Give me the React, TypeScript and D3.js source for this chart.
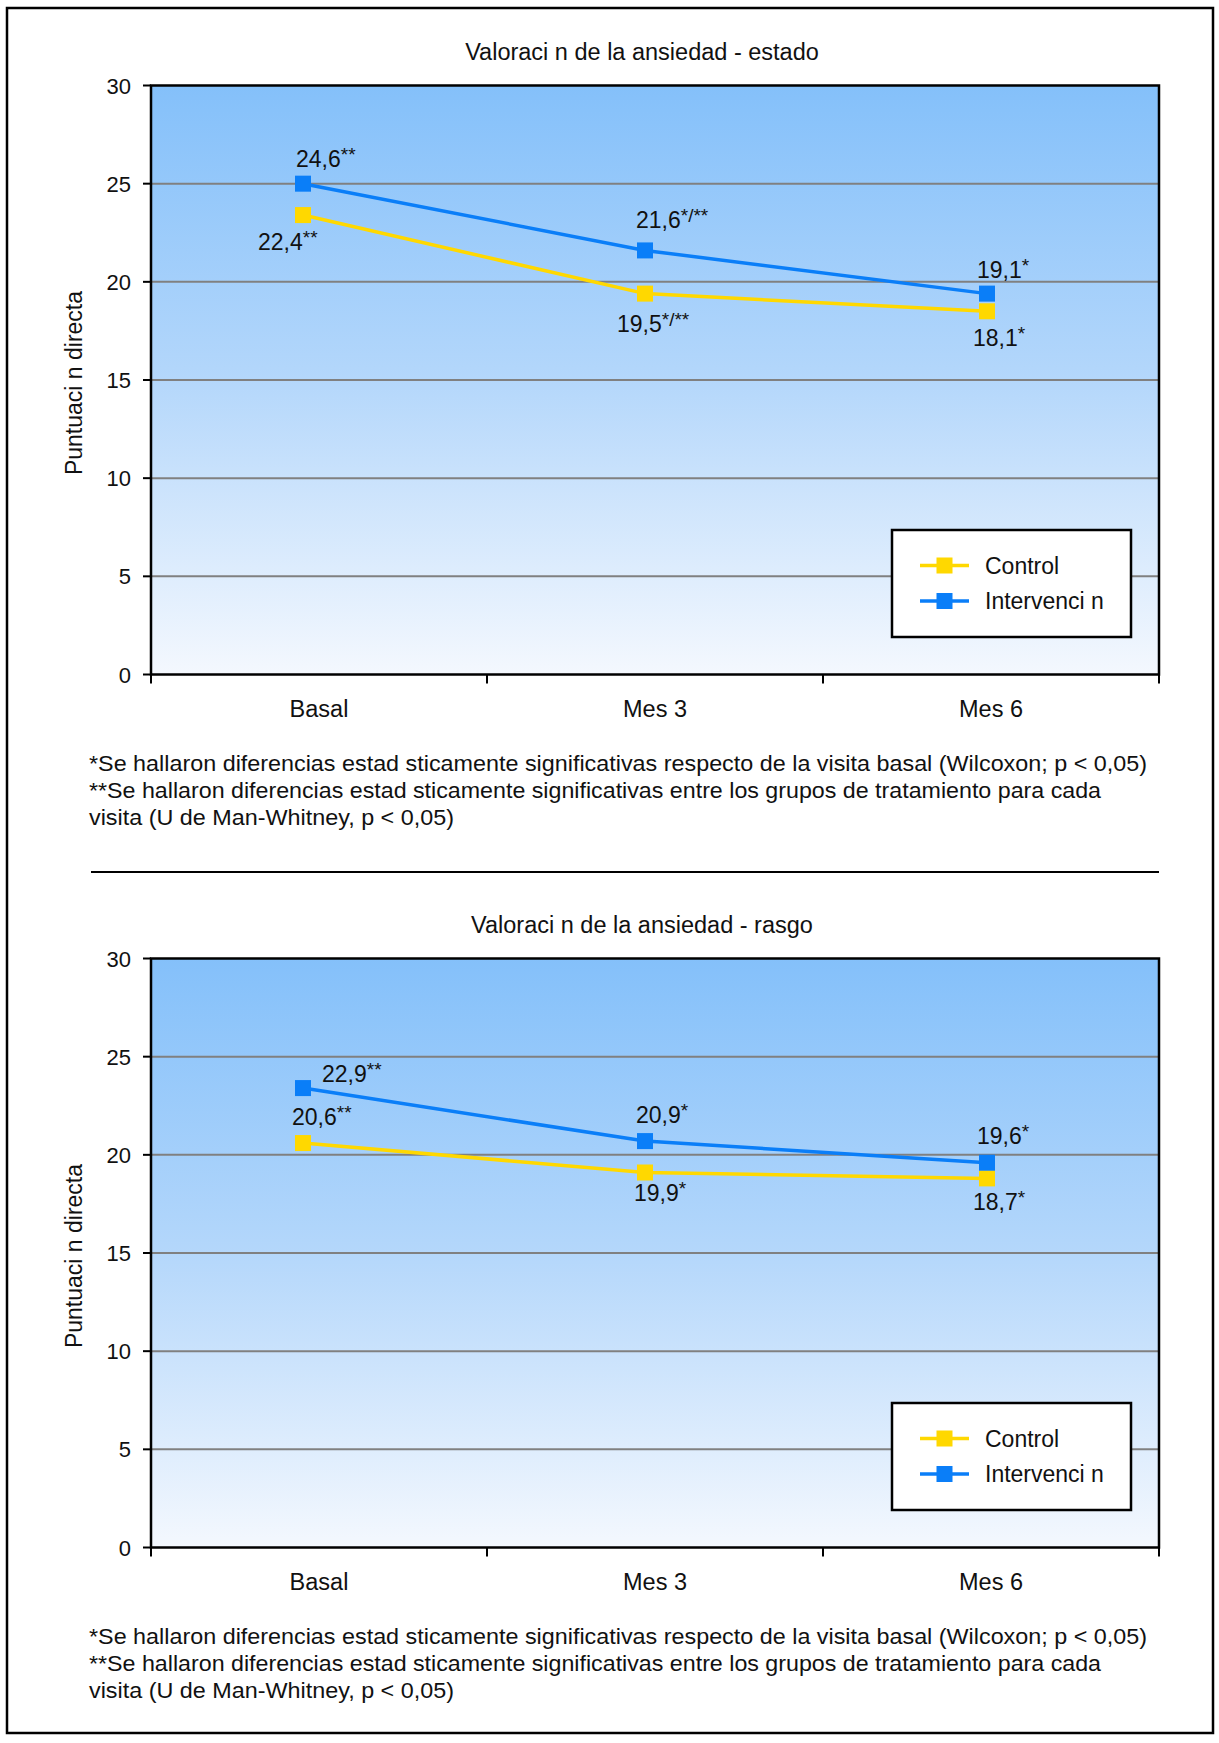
import * as d3 from 'd3';

const categories = ['Basal', 'Mes 3', 'Mes 6'];
const yTicks = [0, 5, 10, 15, 20, 25, 30];
const seriesNames = ['Control', 'Intervenci n'];

// Valoración de la ansiedad - estado
const estadoControl = [23.4, 19.4, 18.5];
const estadoIntervencion = [25.0, 21.6, 19.4];
const estadoControlLabels = [['22,4', '**'], ['19,5', '*/**'], ['18,1', '*']];
const estadoIntervencionLabels = [['24,6', '**'], ['21,6', '*/**'], ['19,1', '*']];

// Valoración de la ansiedad - rasgo
const rasgoControl = [20.6, 19.1, 18.8];
const rasgoIntervencion = [23.4, 20.7, 19.6];
const rasgoControlLabels = [['20,6', '**'], ['19,9', '*'], ['18,7', '*']];
const rasgoIntervencionLabels = [['22,9', '**'], ['20,9', '*'], ['19,6', '*']];

const footnotes = [
  '*Se hallaron diferencias estad sticamente significativas respecto de la visita basal (Wilcoxon; p < 0,05)',
  '**Se hallaron diferencias estad sticamente significativas entre los grupos de tratamiento para cada',
  'visita (U de Man-Whitney, p < 0,05)',
];

// label offsets from the marker (dx to text start, dy to baseline)
const estadoControlOffsets = [[-45, 35], [-28, 38], [-14, 35]];
const estadoIntervOffsets = [[-7, -17], [-9, -22], [-10, -16]];
const rasgoControlOffsets = [[-11, -18], [-11, 28], [-14, 32]];
const rasgoIntervOffsets = [[19, -6], [-9, -18], [-10, -19]];

const FONT = '"Liberation Sans", Arial, Helvetica, sans-serif';
const BLUE = '#0A7EF8';
const YELLOW = '#FFD800';
const W = 1219;
const H = 1743;

const plot = { left: 151, right: 1159, top: 85.5, bottom: 674.5 };

interface PanelProps {
  y0: number;
  id: string;
  title: string;
  control: number[];
  interv: number[];
  controlLabels: string[][];
  intervLabels: string[][];
  controlOffsets: number[][];
  intervOffsets: number[][];
}

function Panel({ y0, id, title, control, interv, controlLabels, intervLabels, controlOffsets, intervOffsets }: PanelProps) {
  const x = d3.scaleBand<string>().domain(categories).range([plot.left, plot.right]);
  const xp = d3.scalePoint<string>().domain(categories).range([303, 987]);
  const y = d3.scaleLinear().domain([0, 30]).range([plot.bottom, plot.top]);
  const line = d3.line<number>()
    .x((_, i) => xp(categories[i]) as number)
    .y(d => y(d));

  const series = [
    { name: 'control', values: control, color: YELLOW, labels: controlLabels, offsets: controlOffsets },
    { name: 'interv', values: interv, color: BLUE, labels: intervLabels, offsets: intervOffsets },
  ];
  const ms = 16;
  const legend = { x: 892, y: 530, w: 239, h: 107 };
  const legendRows = [565.5, 601];
  const bandEdges = categories.map(c => x(c) as number).concat([plot.right]);

  return (
    <g transform={`translate(0,${y0})`} fontFamily={FONT}>
      <defs>
        <linearGradient id={`bg-${id}`} x1="0" y1="0" x2="0" y2="1">
          <stop offset="0%" stopColor="#84C0FA" />
          <stop offset="50%" stopColor="#B4D7FB" />
          <stop offset="100%" stopColor="#F4F8FE" />
        </linearGradient>
      </defs>
      <text x={642} y={60} textAnchor="middle" fontSize={23.5} fill="#111">{title}</text>

      <rect x={plot.left} y={plot.top} width={plot.right - plot.left} height={plot.bottom - plot.top} fill={`url(#bg-${id})`} />

      {yTicks.filter(t => t > 0 && t < 30).map(t => (
        <line key={t} x1={plot.left} x2={plot.right} y1={y(t)} y2={y(t)} stroke="#808080" strokeWidth={2} />
      ))}

      <rect x={plot.left} y={plot.top} width={plot.right - plot.left} height={plot.bottom - plot.top} fill="none" stroke="#000" strokeWidth={2.5} />

      {yTicks.map(t => (
        <g key={t}>
          <line x1={plot.left - 8} x2={plot.left} y1={y(t)} y2={y(t)} stroke="#000" strokeWidth={2} />
          <text x={plot.left - 20} y={y(t) + 8} textAnchor="end" fontSize={22} fill="#111">{t}</text>
        </g>
      ))}

      {bandEdges.map((bx, i) => (
        <line key={i} x1={bx} x2={bx} y1={plot.bottom} y2={plot.bottom + 9} stroke="#000" strokeWidth={2} />
      ))}
      {categories.map(c => (
        <text key={c} x={(x(c) as number) + x.bandwidth() / 2} y={717} textAnchor="middle" fontSize={23.5} fill="#111">{c}</text>
      ))}

      <text transform={`translate(82,383) rotate(-90)`} textAnchor="middle" fontSize={23} fill="#111">Puntuaci n directa</text>

      {series.map(s => (
        <g key={s.name}>
          <path d={line(s.values) || ''} fill="none" stroke={s.color} strokeWidth={3.5} />
          {s.values.map((v, i) => (
            <rect key={i} x={(xp(categories[i]) as number) - ms / 2} y={y(v) - ms / 2} width={ms} height={ms} fill={s.color} />
          ))}
        </g>
      ))}

      {series.map(s => s.values.map((v, i) => (
        <text key={s.name + i} x={(xp(categories[i]) as number) + s.offsets[i][0]} y={y(v) + s.offsets[i][1]} fontSize={23} fill="#111">
          {s.labels[i][0]}
          <tspan fontSize={19} dy={-6}>{s.labels[i][1]}</tspan>
        </text>
      )))}

      <rect x={legend.x} y={legend.y} width={legend.w} height={legend.h} fill="#fff" stroke="#000" strokeWidth={2.5} />
      {series.map((s, i) => (
        <g key={s.name}>
          <line x1={920} x2={969} y1={legendRows[i]} y2={legendRows[i]} stroke={s.color} strokeWidth={3.5} />
          <rect x={944.5 - ms / 2} y={legendRows[i] - ms / 2} width={ms} height={ms} fill={s.color} />
          <text x={985} y={legendRows[i] + 8} fontSize={23} fill="#111">{seriesNames[i]}</text>
        </g>
      ))}

      {footnotes.map((f, i) => (
        <text key={i} x={89} y={771 + i * 27} fontSize={22} fill="#111"
          textLength={[1058, 1012, 365][i]} lengthAdjust="spacingAndGlyphs">{f}</text>
      ))}
    </g>
  );
}

export default function App() {
  return (
    <svg width={W} height={H} style={{ position: 'absolute', left: 0, top: 0, background: '#fff' }}>
      <rect x={0} y={0} width={W} height={H} fill="#fff" />
      <rect x={7} y={8} width={1206} height={1725} fill="none" stroke="#000" strokeWidth={2.5} />
      <Panel y0={0} id="estado" title="Valoraci n de la ansiedad - estado"
        control={estadoControl} interv={estadoIntervencion}
        controlLabels={estadoControlLabels} intervLabels={estadoIntervencionLabels}
        controlOffsets={estadoControlOffsets} intervOffsets={estadoIntervOffsets} />
      <line x1={91} x2={1159} y1={872} y2={872} stroke="#000" strokeWidth={2} />
      <Panel y0={873} id="rasgo" title="Valoraci n de la ansiedad - rasgo"
        control={rasgoControl} interv={rasgoIntervencion}
        controlLabels={rasgoControlLabels} intervLabels={rasgoIntervencionLabels}
        controlOffsets={rasgoControlOffsets} intervOffsets={rasgoIntervOffsets} />
    </svg>
  );
}
